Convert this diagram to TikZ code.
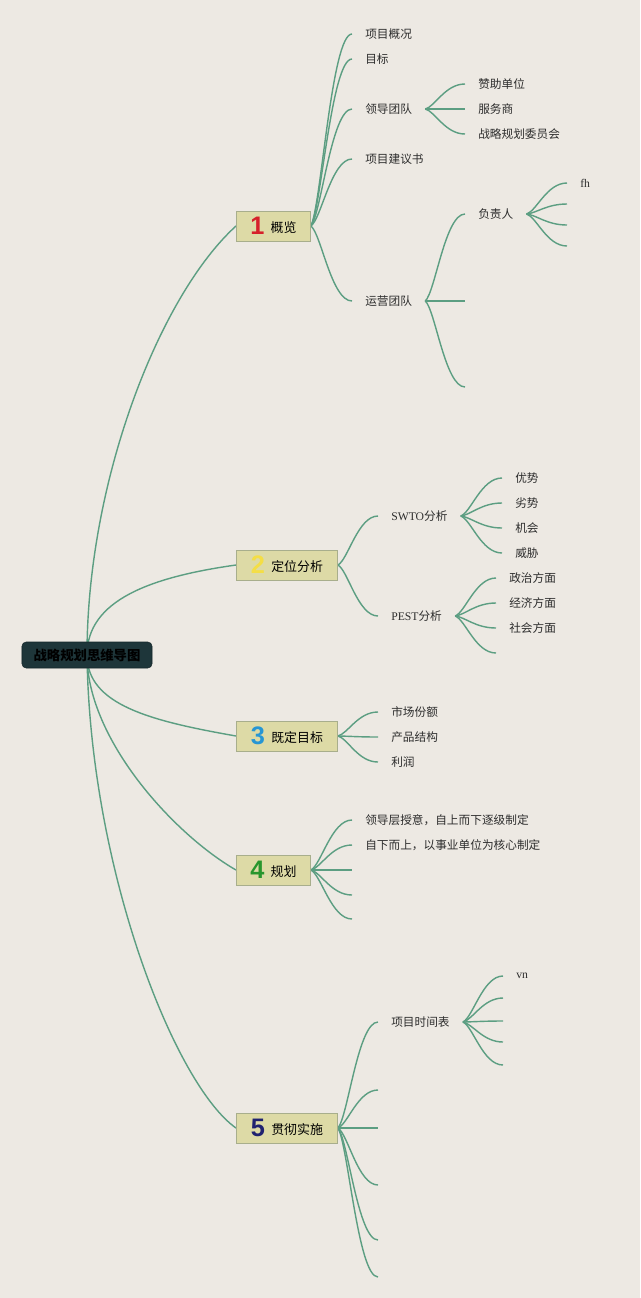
\documentclass[tikz,border=0pt]{standalone}
\usepackage{fontspec}
\setmainfont{Liberation Serif}
\newfontfamily\cjk{Noto Sans CJK SC}
\newfontfamily\lat{Liberation Serif}
\newfontfamily\numfont{Liberation Sans}
\usepackage{xcolor}
\usepackage{tikz}
\usetikzlibrary{calc,backgrounds}

\definecolor{bgcol}{RGB}{237,233,227}
\definecolor{linkcol}{RGB}{92,158,130}
\definecolor{topicfill}{RGB}{221,218,166}
\definecolor{topicline}{RGB}{168,174,140}
\definecolor{rootfill}{RGB}{30,54,58}
\definecolor{itemcol}{RGB}{45,45,45}
\definecolor{num1}{RGB}{214,32,42}
\definecolor{num2}{RGB}{244,222,70}
\definecolor{num3}{RGB}{38,150,212}
\definecolor{num4}{RGB}{40,150,45}
\definecolor{num5}{RGB}{32,34,112}

\newcommand\topicnum[2]{\raisebox{-1.5pt}{\numfont\bfseries\fontsize{18}{18}\selectfont\color{#1}#2}\hspace{4.5pt}}

\tikzset{
  link/.style={draw=linkcol, line width=1pt,
    to path={let \p1=(\tikztostart), \p2=(\tikztotarget) in
      .. controls ({\x1+0.25*(\x2-\x1)},{\y1+0.1*(\y2-\y1)}) and ({0.5*(\x1+\x2)},\y2) .. (\tikztotarget)}},
  mainlink/.style={draw=linkcol, line width=1pt},
}

\begin{document}
\begin{tikzpicture}[
    x=0.025cm, y=-0.025cm,
    rootbox/.style={draw=rootfill!70!black, fill=rootfill, rounded corners=3pt,
      minimum width=3.25cm, minimum height=0.65cm, inner sep=0pt,
      font=\cjk\bfseries\fontsize{9.5}{11}\selectfont, text=black},
    topic/.style={anchor=west, draw=topicline, fill=topicfill, line width=0.6pt,
      minimum height=0.75cm, inner sep=0pt,
      font=\cjk\fontsize{9.2}{11}\selectfont, text=black},
    itemtext/.style={anchor=west, inner xsep=0.325cm, inner ysep=1pt,
      font=\cjk\fontsize{8.3}{10}\selectfont, text=itemcol}
]
\useasboundingbox (0,0) rectangle (640,1298);

% root
\node[rootbox] (root) at (87,655) {战略规划思维导图};

% main topics
\node[topic, minimum width=1.85cm] (t1) at (236,226) {\topicnum{num1}{1}概览};
\node[topic, minimum width=2.525cm] (t2) at (236,565) {\topicnum{num2}{2}定位分析};
\node[topic, minimum width=2.525cm] (t3) at (236,736) {\topicnum{num3}{3}既定目标};
\node[topic, minimum width=1.85cm] (t4) at (236,870) {\topicnum{num4}{4}规划};
\node[topic, minimum width=2.525cm] (t5) at (236,1128) {\topicnum{num5}{5}贯彻实施};

% topic 1
\node[itemtext] (c11) at (352,34) {项目概况};
\node[itemtext] (c12) at (352,59) {目标};
\node[itemtext] (c13) at (352,109) {领导团队};
\node[itemtext] (c14) at (352,159) {项目建议书};
\node[itemtext] (c15) at (352,301) {运营团队};
\node[itemtext] (c131) at (465,84) {赞助单位};
\node[itemtext] (c132) at (465,109) {服务商};
\node[itemtext] (c133) at (465,134) {战略规划委员会};
\node[itemtext] (c151) at (465,214) {负责人};
\coordinate (e152) at (465,301);
\coordinate (e153) at (465,387);
\node[itemtext] (c1511) at (567,183) {\lat fh};
\coordinate (e1512) at (567,204);
\coordinate (e1513) at (567,225);
\coordinate (e1514) at (567,246);

% topic 2
\node[itemtext] (c21) at (378,516) {{\lat SWTO}分析};
\node[itemtext] (c22) at (378,616) {{\lat PEST}分析};
\node[itemtext] (c211) at (502,478) {优势};
\node[itemtext] (c212) at (502,503) {劣势};
\node[itemtext] (c213) at (502,528) {机会};
\node[itemtext] (c214) at (502,553) {威胁};
\node[itemtext] (c221) at (496,578) {政治方面};
\node[itemtext] (c222) at (496,603) {经济方面};
\node[itemtext] (c223) at (496,628) {社会方面};
\coordinate (e224) at (496,653);

% topic 3
\node[itemtext] (c31) at (378,712) {市场份额};
\node[itemtext] (c32) at (378,737) {产品结构};
\node[itemtext] (c33) at (378,762) {利润};

% topic 4
\node[itemtext] (c41) at (352,820) {领导层授意，自上而下逐级制定};
\node[itemtext] (c42) at (352,845) {自下而上，以事业单位为核心制定};
\coordinate (e43) at (352,870);
\coordinate (e44) at (352,895);
\coordinate (e45) at (352,919);

% topic 5
\node[itemtext] (c51) at (378,1022) {项目时间表};
\coordinate (e52) at (378,1090);
\coordinate (e53) at (378,1128);
\coordinate (e54) at (378,1185);
\coordinate (e55) at (378,1240);
\coordinate (e56) at (378,1277);
\node[itemtext] (c511) at (503,976) {\lat vn};
\coordinate (e512) at (503,998);
\coordinate (e513) at (503,1021);
\coordinate (e514) at (503,1042);
\coordinate (e515) at (503,1065);

\begin{scope}[on background layer]
\fill[bgcol] (0,0) rectangle (640,1298);

% root to topics
\draw[mainlink] (root.center) .. controls +(0,-175) and +(-76,69) .. (t1.west);
\draw[mainlink] (root.center) .. controls +(0,-55) and +(-85,12) .. (t2.west);
\draw[mainlink] (root.center) .. controls +(0,50) and +(-85,-15) .. (t3.west);
\draw[mainlink] (root.center) .. controls +(0,85) and +(-61,-35) .. (t4.west);
\draw[mainlink] (root.center) .. controls +(3,215) and +(-61,-43) .. (t5.west);

% topic 1 branches
\draw[link] (t1.east) to (c11.west);
\draw[link] (t1.east) to (c12.west);
\draw[link] (t1.east) to (c13.west);
\draw[link] (t1.east) to (c14.west);
\draw[link] (t1.east) to (c15.west);
\draw[link] (c13.east) to (c131.west);
\draw[link] (c13.east) to (c132.west);
\draw[link] (c13.east) to (c133.west);
\draw[link] (c15.east) to (c151.west);
\draw[link] (c15.east) to (e152);
\draw[link] (c15.east) to (e153);
\draw[link] (c151.east) to (c1511.west);
\draw[link] (c151.east) to (e1512);
\draw[link] (c151.east) to (e1513);
\draw[link] (c151.east) to (e1514);

% topic 2 branches
\draw[link] (t2.east) to (c21.west);
\draw[link] (t2.east) to (c22.west);
\draw[link] (c21.east) to (c211.west);
\draw[link] (c21.east) to (c212.west);
\draw[link] (c21.east) to (c213.west);
\draw[link] (c21.east) to (c214.west);
\draw[link] (c22.east) to (c221.west);
\draw[link] (c22.east) to (c222.west);
\draw[link] (c22.east) to (c223.west);
\draw[link] (c22.east) to (e224);

% topic 3 branches
\draw[link] (t3.east) to (c31.west);
\draw[link] (t3.east) to (c32.west);
\draw[link] (t3.east) to (c33.west);

% topic 4 branches
\draw[link] (t4.east) to (c41.west);
\draw[link] (t4.east) to (c42.west);
\draw[link] (t4.east) to (e43);
\draw[link] (t4.east) to (e44);
\draw[link] (t4.east) to (e45);

% topic 5 branches
\draw[link] (t5.east) to (c51.west);
\draw[link] (t5.east) to (e52);
\draw[link] (t5.east) to (e53);
\draw[link] (t5.east) to (e54);
\draw[link] (t5.east) to (e55);
\draw[link] (t5.east) to (e56);
\draw[link] (c51.east) to (c511.west);
\draw[link] (c51.east) to (e512);
\draw[link] (c51.east) to (e513);
\draw[link] (c51.east) to (e514);
\draw[link] (c51.east) to (e515);
\end{scope}

\end{tikzpicture}
\end{document}
